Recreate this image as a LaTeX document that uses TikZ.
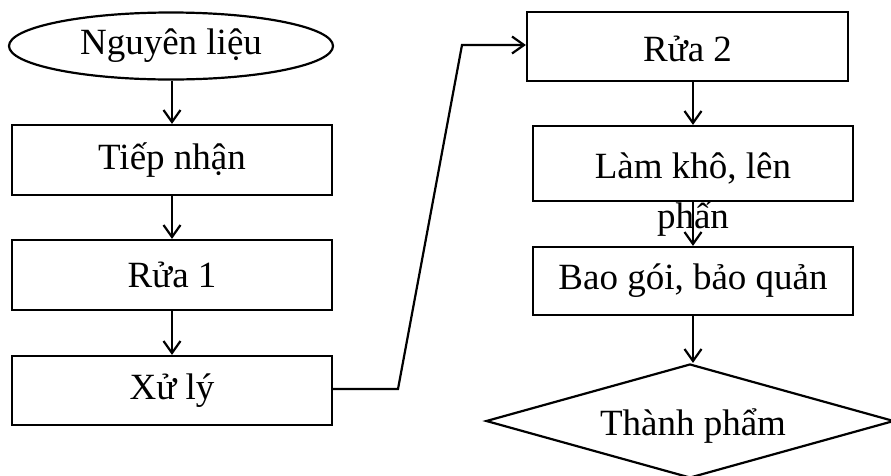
\documentclass[tikz,border=0pt]{standalone}
\usepackage{fontspec}
\setmainfont{Liberation Serif}
\usetikzlibrary{shapes.geometric,arrows.meta}
\begin{document}
\begin{tikzpicture}[x=1pt,y=-1pt,
  every node/.style={font=\fontsize{37}{50}\selectfont, inner sep=0pt},
  stepbox/.style={draw, line width=2.2pt, rectangle, minimum width=320pt, minimum height=70pt},
  arr/.style={line width=2.2pt, -{Straight Barb[length=12pt,width=17pt,line width=2.2pt]}}]
\useasboundingbox (0,0) rectangle (891,475);

% left column
\node[draw, line width=2.2pt, ellipse, minimum width=324pt, minimum height=67pt] (src) at (171,46) {Nguyên liệu};
\node[stepbox] (tiep) at (172,160) {Tiếp nhận};
\node[stepbox] (rua1) at (172,275) {Rửa 1};
\node[stepbox, minimum height=69pt] (xuly) at (172,390.5) {Xử lý};

% right column
\node[stepbox, minimum width=321pt, minimum height=69pt] (rua2) at (687.5,46.5) {};
\node at (687.5,49) {Rửa 2};
\node[stepbox, minimum height=75pt] (lam) at (693,163.5) {};
\node[align=center] (lamtxt) at (693,195) {Làm khô, lên\\phấn};
\node[stepbox, minimum height=68pt] (bao) at (693,281) {Bao gói, bảo quản};
\node[draw, line width=2.2pt, diamond, minimum width=408pt, minimum height=114pt] (tp) at (690,421) {};
\node at (693,426) {Thành phẩm};

% connectors
\draw[arr] (src.south -| tiep.north) -- (tiep.north);
\draw[arr] (tiep) -- (rua1);
\draw[arr] (rua1) -- (xuly);

\coordinate (k1) at (398,389);
\coordinate (k2) at (462,45);
\draw[arr] (xuly.east |- k1) -- (k1) -- (k2) -- (rua2.west |- k2);

\draw[arr] (lam.north |- rua2.south) -- (lam.north);
\draw[arr] (lam) -- (bao);
\draw[arr] (bao.south) -- (tp.north -| bao.south);
\end{tikzpicture}
\end{document}
